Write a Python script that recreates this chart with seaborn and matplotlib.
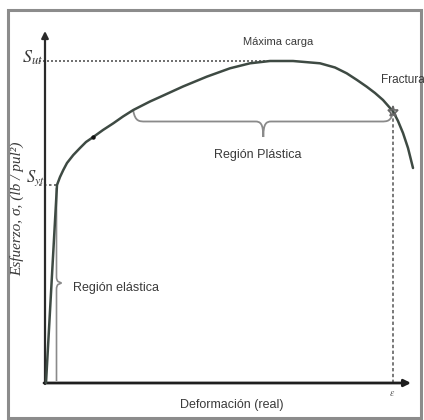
import numpy as np
import pandas as pd
import seaborn as sns
import matplotlib.pyplot as plt
from matplotlib.path import Path
from matplotlib.patches import PathPatch, Rectangle

sns.set_theme(style="white")
plt.rcParams["font.family"] = ["Liberation Sans", "DejaVu Sans"]
plt.rcParams["mathtext.fontset"] = "stix"

# True stress-strain curve (arbitrary units): elastic line then plastic hardening,
# necking after maximum load and fracture.
strain = [1, 12, 15, 18.3, 22, 28.3, 35, 41, 48.3, 58, 68.3, 78, 88.3, 105, 115,
          138, 161.7, 185, 205, 225, 248, 275, 290, 301.7, 312, 321.7, 330, 338,
          348.3, 353, 358, 363, 368]
stress = [0, 198, 206, 213, 220, 228, 235, 241, 246, 253, 259.7, 266.5, 273, 281.5,
          286, 296.5, 306.3, 314.7, 319.7, 322, 322, 319.7, 315.5, 309.7, 303,
          296.3, 290, 283, 271.3, 262, 250, 235, 215]
curve = pd.DataFrame({"strain": strain, "stress": stress})

# Key points of the curve
yield_pt = (12, 198)        # S_yt
max_pt = (248, 322)         # S_ut (maximum load)
fracture_pt = (348.3, 271.3)
marked_pt = (48.3, 246)
plastic_span = (88.3, 348.3)  # extent of the plastic-region brace

fig = plt.figure(figsize=(4.24, 4.20), dpi=100)
ax = fig.add_axes([0, 0, 1, 1])
ax.set_xlim(-45, 379)
ax.set_ylim(-37, 383)
ax.axis("off")

curve_color = "#3e4a43"
text_color = "#3a3a3a"
brace_color = "#8a8a8a"

# outer frame
ax.add_patch(Rectangle((-36.5, -34.5), 412, 407.5, fill=False, lw=2.2,
                       edgecolor="#8c8c8c", zorder=1))

# axes with arrow heads
ax.annotate("", xy=(0, 352), xytext=(0, -1),
            arrowprops=dict(arrowstyle="-|>", lw=1.6, color="#2a2a2a",
                            mutation_scale=10, shrinkA=0, shrinkB=0))
ax.annotate("", xy=(366, 0), xytext=(-1, 0),
            arrowprops=dict(arrowstyle="-|>", lw=2.0, color="#1e1e1e",
                            mutation_scale=10, shrinkA=0, shrinkB=0))

# reference lines
ax.plot([-6, max_pt[0]], [max_pt[1], max_pt[1]], color="#555555", lw=1.2,
        ls=(0, (1.2, 1.2)), zorder=2)
ax.plot([-6, yield_pt[0]], [yield_pt[1], yield_pt[1]], color="#555555", lw=1.2,
        ls=(0, (1.5, 1.5)), zorder=2)
ax.plot([fracture_pt[0], fracture_pt[0]], [0, fracture_pt[1]], color="#555555",
        lw=1.1, ls=(0, (2.2, 1.6)), zorder=2)

# the curve
sns.lineplot(data=curve, x="strain", y="stress", sort=False, estimator=None,
             color=curve_color, lw=1.8, ax=ax, zorder=4)
ax.plot(*marked_pt, marker="o", ms=2.2, color="#111111", zorder=5)
ax.plot(*fracture_pt, marker="*", ms=8, mfc="none", mec="#666666", mew=1.2, zorder=5)


def hbrace(x0, x1, y_end, y_body, y_tip):
    xm = (x0 + x1) / 2
    verts = [(x0, y_end), (x0 + 2, y_body), (x0 + 6, y_body), (x0 + 12, y_body),
             (xm - 8, y_body),
             (xm - 3, y_body), (xm, y_body - 2), (xm, y_tip),
             (xm, y_body - 2), (xm + 3, y_body), (xm + 8, y_body),
             (x1 - 12, y_body),
             (x1 - 6, y_body), (x1 - 2, y_body), (x1, y_end)]
    codes = [Path.MOVETO, Path.CURVE4, Path.CURVE4, Path.CURVE4, Path.LINETO,
             Path.CURVE4, Path.CURVE4, Path.CURVE4,
             Path.CURVE4, Path.CURVE4, Path.CURVE4, Path.LINETO,
             Path.CURVE4, Path.CURVE4, Path.CURVE4]
    return Path(verts, codes)


def vbrace(x_body, x_tip, y0, y1, ym):
    verts = [(x_body, y0), (x_body, ym - 6), (x_body, ym - 3), (x_body + 1.5, ym - 1.5),
             (x_tip, ym), (x_body + 1.5, ym + 1.5), (x_body, ym + 3), (x_body, ym + 6),
             (x_body, y1)]
    codes = [Path.MOVETO, Path.LINETO, Path.CURVE3, Path.CURVE3,
             Path.LINETO, Path.LINETO, Path.CURVE3, Path.CURVE3, Path.LINETO]
    return Path(verts, codes)


ax.add_patch(PathPatch(hbrace(plastic_span[0], plastic_span[1], 272, 261.5, 246),
                       fill=False, lw=1.3, edgecolor=brace_color, zorder=3))
ax.add_patch(PathPatch(vbrace(11.5, 16.5, 2, 195, 100),
                       fill=False, lw=1.2, edgecolor=brace_color, zorder=3))

# labels
ax.text(233, 341, "Máxima carga", fontsize=8, color=text_color, ha="center", va="center")
ax.text(358, 303, "Fractura", fontsize=8.5, color=text_color, ha="center", va="center")
ax.text(213, 228, "Región Plástica", fontsize=9, color=text_color, ha="center", va="center")
ax.text(28, 95, "Región elástica", fontsize=9, color=text_color, ha="left", va="center")
ax.text(187, -22, "Deformación (real)", fontsize=9, color=text_color, ha="center", va="center")
ax.text(347, -10, r"$\varepsilon$", fontsize=7, color="#555555", ha="center", va="center")
ax.text(-12, 325, r"$S_{ut}$", fontsize=13, color=text_color, ha="center", va="center")
ax.text(-10, 205, r"$S_{yt}$", fontsize=12, color=text_color, ha="center", va="center")
ax.text(-28, 174, "Esfuerzo, σ, (lb / pul²)", rotation=90, fontsize=11,
        family=["Liberation Serif", "DejaVu Serif"], style="italic",
        color=text_color, ha="center", va="center")

fig.savefig("out.png", dpi=100, facecolor="white")
